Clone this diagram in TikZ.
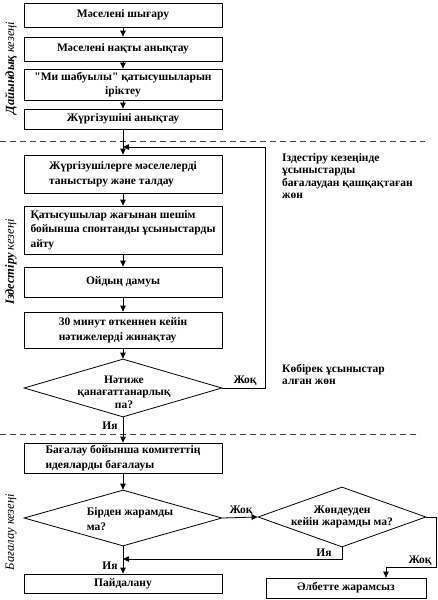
\documentclass[tikz,border=0pt]{standalone}
\usepackage{fontspec}
\setmainfont{Liberation Serif}
\usetikzlibrary{arrows.meta,shapes.geometric,calc}
\begin{document}
\begin{tikzpicture}[x=1pt,y=-1pt,
 every node/.style={font=\bfseries\fontsize{11.5}{14.5}\selectfont},
 box/.style={draw,line width=0.8pt,minimum width=198pt,inner sep=1pt,align=left},
 dia/.style={draw,diamond,line width=0.8pt,inner sep=0pt},
 dtext/.style={inner sep=0pt,font=\bfseries\fontsize{11.5}{12.5}\selectfont},
 arr/.style={line width=0.8pt,-{Triangle[length=6pt,width=5.5pt]}},
 ln/.style={line width=0.8pt},
 sep/.style={line width=0.7pt,dash pattern=on 6pt off 4pt,draw=black!75},
 lbl/.style={inner sep=0pt},
 side/.style={inner sep=0pt,anchor=north west,align=left,font=\bfseries\fontsize{11.5}{12.5}\selectfont},
 stage/.style={rotate=90,inner sep=0pt,font=\itshape\fontsize{12.5}{13}\selectfont}]
\useasboundingbox (0,0) rectangle (438,600);

% stage labels
\node[stage] (s1) at (11,68) {\textbf{Дайындық} кезеңі};
\node[stage] (s2) at (11,262) {\textbf{Іздестіру} кезеңі};
\node[stage] (s3) at (11,532) {Бағалау кезеңі};

% separators
\draw[sep] (0,141) -- (425,141);
\draw[sep] (0,434) -- (420,434);

% main column
\node[box,minimum height=24pt] (b1) at (123,15) {Мәселені шығару};
\node[box,minimum height=24pt] (b2) at (123,49) {Мәселені нақты анықтау};
\node[box,minimum height=31pt,align=center] (b3) at (123,84.5) {\textquotedbl Ми шабуылы\textquotedbl{} қатысушыларын\\іріктеу};
\node[box,minimum height=20pt] (b4) at (123,119) {Жүргізушіні анықтау};
\node[box,minimum height=38pt] (b5) at (123,174) {Жүргізушілерге мәселелерді\\таныстыру және талдау};
\node[box,minimum height=48pt] (b6) at (123,230) {Қатысушылар жағынан шешім\\бойынша спонтанды ұсыныстарды\\айту};
\node[box,minimum height=30pt] (b7) at (123,282) {Ойдың дамуы};
\node[box,minimum height=36pt] (b8) at (123,330) {30 минут өткеннен кейін\\нәтижелерді жинақтау};
\node[dia,minimum width=198pt,minimum height=58pt] (d1) at (123,388) {};
\node[dtext,align=center] (t1) at (124,392) {Нәтиже\\қанағаттанарлық\\па?};
\node[box,minimum height=30pt] (b9) at (123,458) {Бағалау бойынша комитеттің\\идеяларды бағалауы};
\node[dia,minimum width=198pt,minimum height=56pt] (d2) at (123,518) {};
\node[dtext,align=left] (t2) at (130,519) {Бірден жарамды\\[3pt]ма?};
\node[box,minimum height=19pt] (b10) at (123,583.5) {Пайдалану};

% right column
\node[dia,minimum width=168pt,minimum height=60pt] (d3) at (342,517) {};
\node[dtext,align=center] (t3) at (342,517) {Жөндеуден\\кейін жарамды ма?};
\node[box,minimum width=160pt,minimum height=20pt] (b11) at (346,588) {Әлбетте жарамсыз};

% side notes
\node[side] (n1) at (282,153) {Іздестіру кезеңінде\\ұсыныстарды\\бағалаудан қашқақтаған\\жөн};
\node[side] (n2) at (282,364) {Көбірек ұсыныстар\\алған жөн};

% connectors
\draw[arr] (b1) -- (b2);
\draw[arr] (b2) -- (b3);
\draw[arr] (b3) -- (b4);
\draw[arr] (b4) -- (b5);
\draw[arr] (b5) -- (b6);
\draw[arr] (b6) -- (b7);
\draw[arr] (b7) -- (b8);
\draw[arr] (b8) -- (d1);
\draw[arr] (d1) -- (b9);
\draw[arr] (b9) -- (d2);
\draw[arr] (d2) -- (b10);
\coordinate (j1) at (123,147);
\draw[arr] (d1.east) -- ++(43,0) |- (j1);
\draw[arr] (d2.east) -- (d3.west);
\coordinate (j2) at (123,559);
\draw[arr] (d3.south) |- (j2);
\coordinate (k) at (386,567);
\draw[ln] (d3.east) -- ++(10,0) |- (k);
\draw[arr] (k) -- (k |- b11.north);

% labels
\node[lbl] (l1) at (245,381) {Жоқ};
\node[lbl] (l2) at (110,426) {Ия};
\node[lbl] (l3) at (241,511) {Жоқ};
\node[lbl] (l4) at (324,553) {Ия};
\node[lbl] (l5) at (110,566) {Ия};
\node[lbl] (l6) at (420,561) {Жоқ};
\end{tikzpicture}
\end{document}
